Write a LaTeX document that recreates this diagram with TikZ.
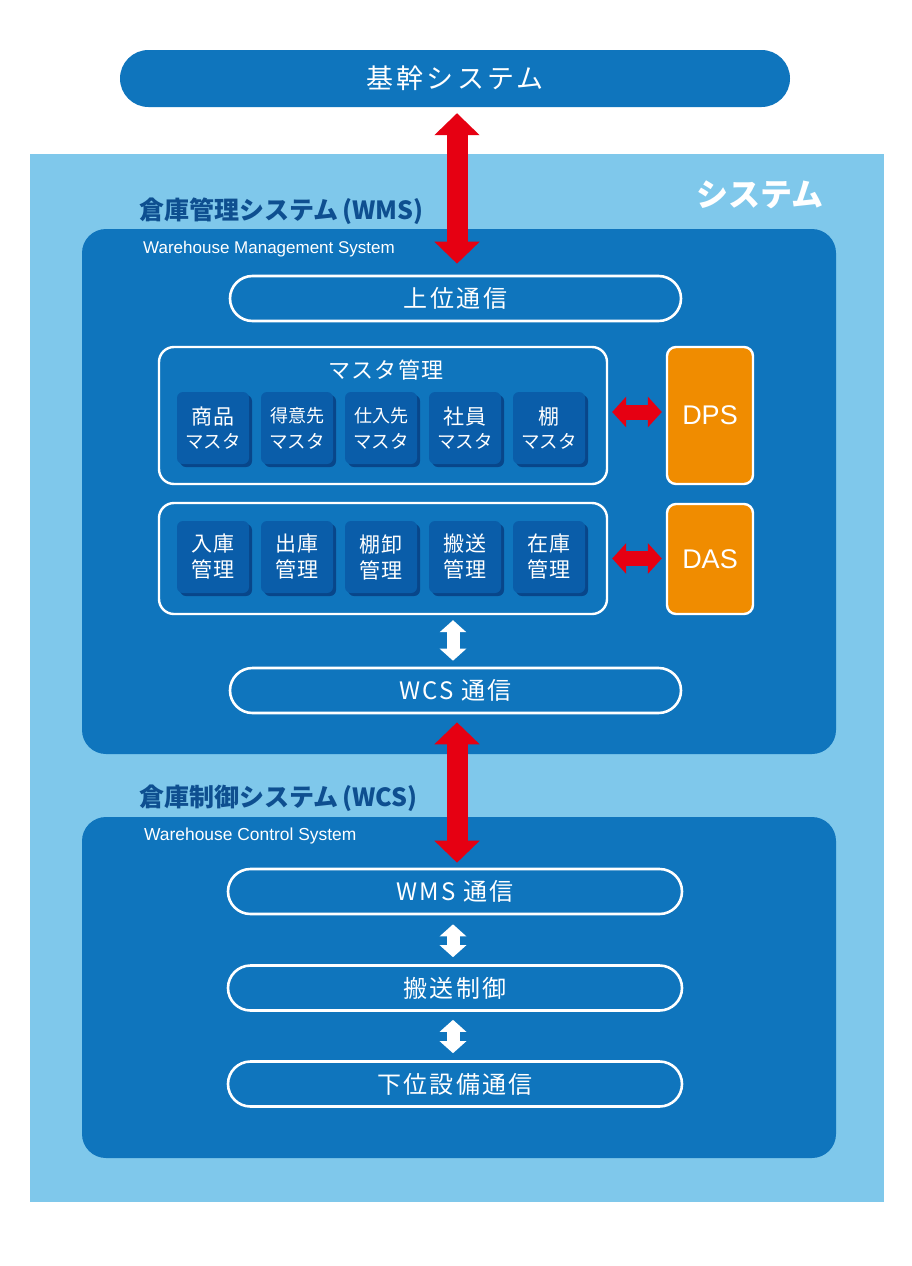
\documentclass[tikz,border=0pt]{standalone}
\usepackage{fontspec}
\setmainfont{Noto Sans CJK JP}
\newfontfamily\cjk{Noto Sans CJK JP}
\newfontfamily\cjkk[LetterSpace=12]{Noto Sans CJK JP}
\newfontfamily\cjksp[LetterSpace=10]{Noto Sans CJK JP}
\newfontfamily\cjkss[LetterSpace=5]{Noto Sans CJK JP}
\newfontfamily\lat{Liberation Sans}
\usetikzlibrary{arrows.meta,shadows}
\definecolor{mblue}{HTML}{0F75BD}
\definecolor{lblue}{HTML}{7FC8EB}
\definecolor{sbox}{HTML}{0A5DA9}
\definecolor{sshadow}{HTML}{08468A}
\definecolor{ttl}{HTML}{0E4F90}
\definecolor{ared}{HTML}{E60012}
\definecolor{orng}{HTML}{F08C00}
\tikzset{
  bigbox/.style={fill=mblue, rounded corners=24pt, minimum width=754pt, inner sep=0pt},
  pill/.style={draw=white, line width=2.6pt, fill=mblue, rounded corners=22.5pt, minimum width=451pt, minimum height=45pt, inner sep=0pt, text=white, font=\cjksp\fontsize{24}{24}\selectfont},
  groupbox/.style={draw=white, line width=2.4pt, rounded corners=15pt, minimum width=448pt, inner sep=0pt},
  sidebox/.style={draw=white, line width=2.4pt, fill=orng, rounded corners=9pt, minimum width=86pt, inner sep=0pt, text=white, font=\lat\fontsize{27}{27}\selectfont},
  smallbox/.style={fill=sbox, rounded corners=6pt, minimum width=72pt, minimum height=72pt, inner sep=0pt, text=white, align=center,
    font=\fontsize{20}{24}\selectfont,
    drop shadow={shadow xshift=3pt, shadow yshift=-3pt, fill=sshadow, opacity=1}},
  ttltext/.style={anchor=west, text=ttl, font=\cjk\bfseries\fontsize{25}{25}\selectfont, inner sep=0pt},
  subtext/.style={anchor=west, text=white, inner sep=0pt},
  redarrow/.style={ared, line width=21pt, {Triangle[length=22pt,width=44pt]}-{Triangle[length=22pt,width=44pt]}},
  redharrow/.style={ared, line width=15pt, {Triangle[length=14pt,width=30pt]}-{Triangle[length=14pt,width=30pt]}},
  whitearrow/.style={white, line width=13pt, {Triangle[length=12pt,width=26pt]}-{Triangle[length=12pt,width=26pt]}}
}
\newcommand{\kl}[1]{{\cjkss\fontsize{21}{24}\selectfont #1}}
\newcommand{\ml}[1]{{\cjk\fontsize{18.5}{24}\selectfont #1}}
\newcommand{\smline}[1]{{\cjk\fontsize{18}{24}\selectfont #1}}
\begin{document}
\begin{tikzpicture}[x=1pt,y=-1pt]
\useasboundingbox (0,0) rectangle (912,1266);
\fill[white] (0,0) rectangle (912,1266);
% background
\node[fill=lblue, minimum width=854pt, minimum height=1048pt, inner sep=0pt] (bg) at (457,678) {};
% top system
\node[fill=mblue, rounded corners=28.5pt, minimum width=670pt, minimum height=57pt, inner sep=0pt, text=white,
  font=\cjkk\fontsize{27}{27}\selectfont] (kikan) at (455,78.5) {基幹システム};
\node[text=white, font=\cjk\bfseries\fontsize{32}{32}\selectfont, inner sep=0pt] (sys) at (760,195) {システム};
% WMS
\node[ttltext] (wmst) at (139,211) {倉庫管理システム\,(WMS)};
\node[bigbox, minimum height=525pt] (wms) at (459,491.5) {};
\node[subtext, font=\lat\fontsize{17}{17}\selectfont] (wmssub) at (143,249) {Warehouse Management System};
\node[pill] (joui) at (455.5,298.5) {上位通信};
\node[groupbox, minimum height=137pt] (master) at (383,415.5) {};
\node[text=white, font=\cjkss\fontsize{22}{22}\selectfont, inner sep=0pt] (mastert) at (386,370) {マスタ管理};
\node[smallbox] (m1) at (213,428) {\kl{商品}\\\ml{マスタ}};
\node[smallbox] (m2) at (297,428) {\smline{得意先}\\[2pt]\ml{マスタ}};
\node[smallbox] (m3) at (381,428) {\smline{仕入先}\\[2pt]\ml{マスタ}};
\node[smallbox] (m4) at (465,428) {\kl{社員}\\\ml{マスタ}};
\node[smallbox] (m5) at (549,428) {\kl{棚}\\\ml{マスタ}};
\node[sidebox, minimum height=137pt] (dps) at (710,415.5) {DPS};
\node[groupbox, minimum height=111pt] (kanri) at (383,558.5) {};
\node[smallbox] (k1) at (213,557) {\kl{入庫}\\[2pt]\kl{管理}};
\node[smallbox] (k2) at (297,557) {\kl{出庫}\\[2pt]\kl{管理}};
\node[smallbox] (k3) at (381,557) {\kl{棚卸}\\[2pt]\kl{管理}};
\node[smallbox] (k4) at (465,557) {\kl{搬送}\\[2pt]\kl{管理}};
\node[smallbox] (k5) at (549,557) {\kl{在庫}\\[2pt]\kl{管理}};
\node[sidebox, minimum height=110pt] (das) at (710,559) {DAS};
\node[pill] (wcsc) at (455.5,690.5) {WCS 通信};
% WCS
\node[ttltext] (wcst) at (139,798) {倉庫制御システム\,(WCS)};
\node[bigbox, minimum height=341pt] (wcs) at (459,987.5) {};
\node[subtext, font=\lat\fontsize{17.4}{17.4}\selectfont] (wcssub) at (144,836) {Warehouse Control System};
\node[pill, minimum width=454pt] (wmsc) at (455,891.5) {WMS 通信};
\node[pill, minimum width=454pt] (hanso) at (455,988) {搬送制御};
\node[pill, minimum width=454pt] (kai) at (455,1084) {下位設備通信};
% arrows
\draw[redarrow, shorten <=6pt, shorten >=11pt] ([xshift=2pt]kikan.south) -- ([xshift=2pt]kikan.south |- joui.north);
\draw[redharrow, shorten <=4pt, shorten >=4pt] ([yshift=3.5pt]master.east) -- ([yshift=3.5pt]master.east -| dps.west);
\draw[redharrow, shorten <=4pt, shorten >=4pt] (kanri.east) -- (kanri.east -| das.west);
\draw[whitearrow, shorten <=5pt, shorten >=6pt] ([xshift=-2.5pt]wcsc.north |- kanri.south) -- ([xshift=-2.5pt]wcsc.north);
\draw[redarrow, shorten <=8pt, shorten >=5pt] ([xshift=1.5pt]wcsc.south) -- ([xshift=1.5pt]wcsc.south |- wmsc.north);
\draw[whitearrow, shorten <=9pt, shorten >=7pt] ([xshift=-2pt]wmsc.south) -- ([xshift=-2pt]hanso.north);
\draw[whitearrow, shorten <=8pt, shorten >=7pt] ([xshift=-2pt]hanso.south) -- ([xshift=-2pt]kai.north);
\end{tikzpicture}
\end{document}
